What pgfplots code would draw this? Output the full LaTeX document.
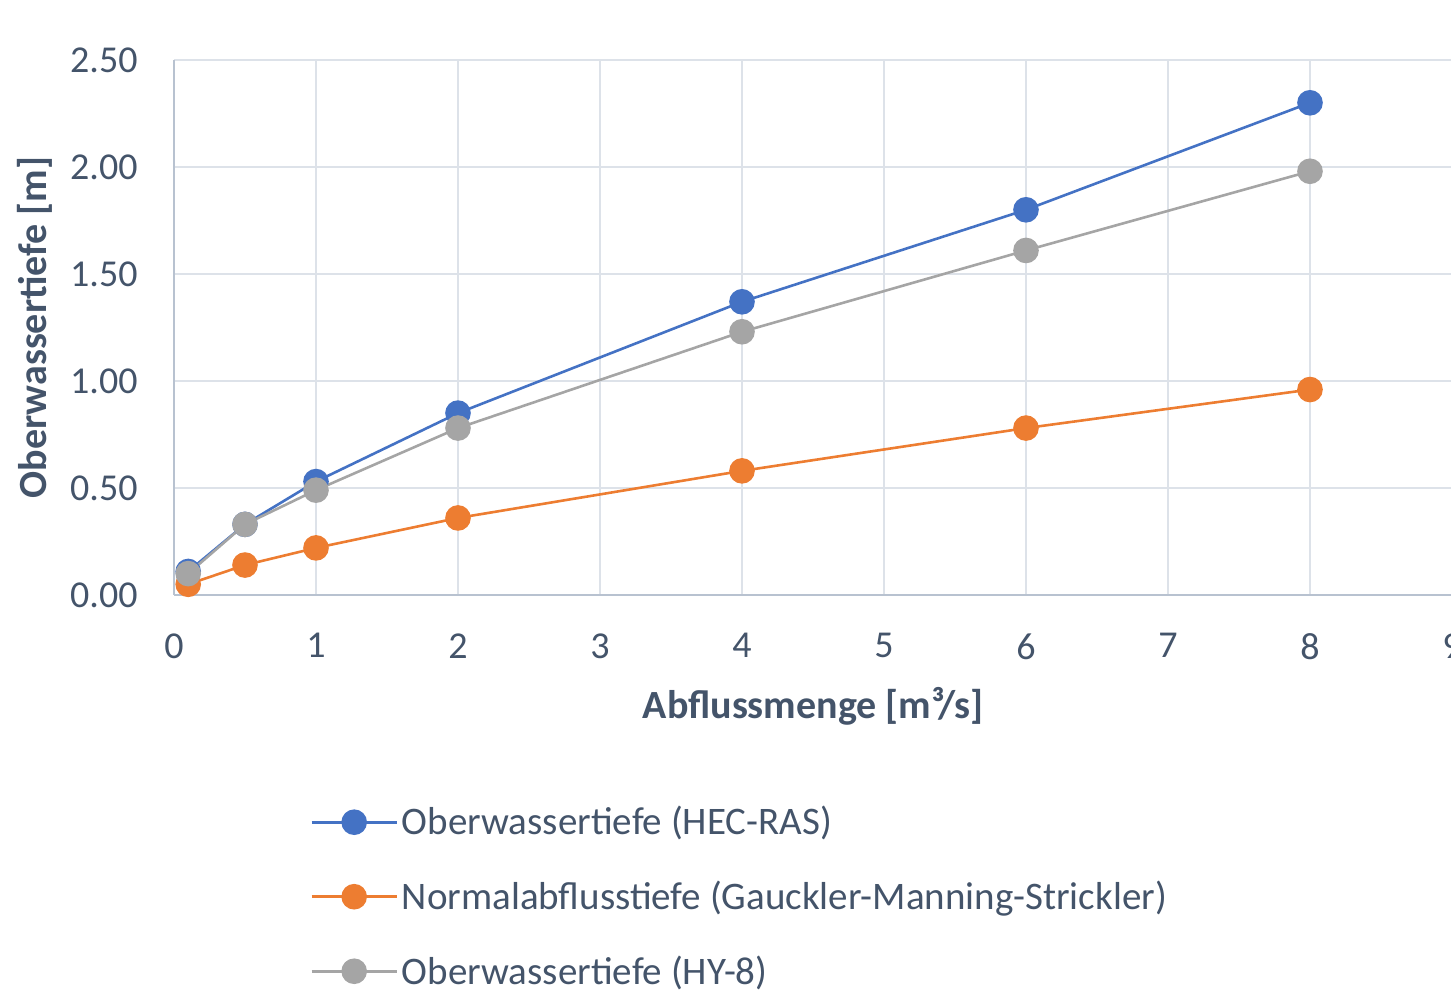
\documentclass[border=0pt]{standalone}
\usepackage{fontspec}
\setmainfont{Carlito}
\usepackage{pgfplots}
\pgfplotsset{compat=1.18}
\definecolor{txt}{HTML}{44546A}
\definecolor{gridc}{HTML}{DDE2E9}
\definecolor{axc}{HTML}{B8C2D0}
\definecolor{cblue}{HTML}{4472C4}
\definecolor{corange}{HTML}{ED7D31}
\definecolor{cgray}{HTML}{A5A5A5}

\begin{document}
\begin{tikzpicture}
\useasboundingbox (0,0) rectangle (725.5pt,500pt);
\begin{axis}[
  at={(87pt,202.5pt)}, anchor=south west,
  scale only axis, width=639pt, height=267.5pt,
  xmin=0, xmax=9, ymin=0, ymax=2.5,
  xtick={0,1,...,9}, ytick={0,0.5,1,1.5,2,2.5},
  axis x line=bottom, axis y line=left,
  axis line style={draw=axc, line width=1.2pt, -},
  grid=major, major grid style={draw=gridc, line width=1.2pt},
  major tick length=0pt,
  /pgf/number format/assume math mode=true,
  ticklabel style={font=\fontsize{19}{23}\selectfont, text=txt, inner sep=0pt},
  yticklabel style={anchor=east, xshift=-18pt,
    /pgf/number format/.cd, fixed, fixed zerofill, precision=2},
  xticklabel style={anchor=north, yshift=-19pt},
  xlabel={Abflussmenge [m³/s]},
  ylabel={Oberwassertiefe [m]},
  label style={font=\fontsize{20}{24}\selectfont\bfseries, text=txt},
  xlabel style={at={(axis description cs:0.5,-0.209)}, anchor=center},
  ylabel style={at={(axis description cs:-0.1088,0.5)}, anchor=center},
  legend style={at={(axis description cs:0.1064,-0.387)}, anchor=north west,
    draw=none, fill=none, font=\fontsize{19.5}{23}\selectfont, text=txt,
    row sep=17.5pt, inner sep=0pt},
  legend cell align=left,
  legend image code/.code={\draw[#1, mark repeat=2, mark phase=2]
    plot coordinates {(0pt,0pt)(21.25pt,0pt)(42.5pt,0pt)};},
  every axis plot/.append style={line width=1.3pt, mark=*, mark size=5.75pt},
]
\addplot[color=cblue, mark options={fill=cblue, draw=cblue}]
  coordinates {(0.1,0.11)(0.5,0.33)(1,0.53)(2,0.85)(4,1.37)(6,1.80)(8,2.30)};
\addlegendentry{Oberwassertiefe (HEC-RAS)}
\addplot[color=corange, mark options={fill=corange, draw=corange}]
  coordinates {(0.1,0.05)(0.5,0.14)(1,0.22)(2,0.36)(4,0.58)(6,0.78)(8,0.96)};
\addlegendentry{Normalabflusstiefe (Gauckler-Manning-Strickler)}
\addplot[color=cgray, mark options={fill=cgray, draw=cgray}]
  coordinates {(0.1,0.10)(0.5,0.33)(1,0.49)(2,0.78)(4,1.23)(6,1.61)(8,1.98)};
\addlegendentry{Oberwassertiefe (HY-8)}
\end{axis}
\end{tikzpicture}
\end{document}
